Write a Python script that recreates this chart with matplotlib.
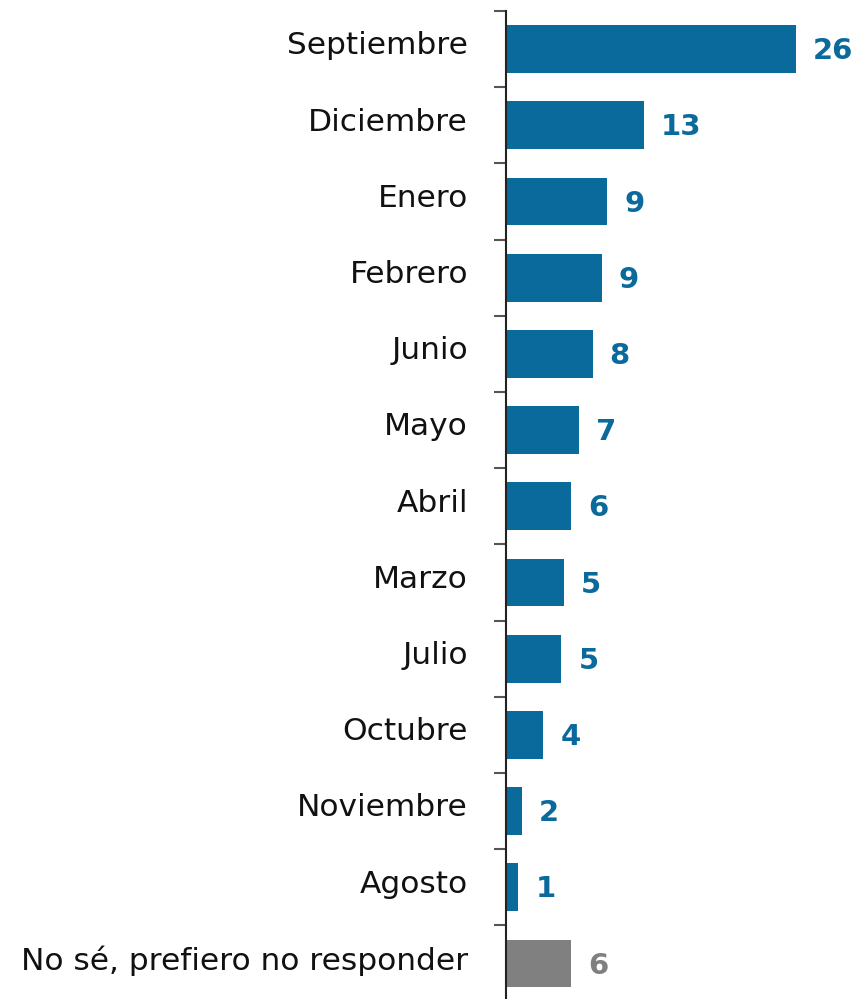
import matplotlib
matplotlib.use("Agg")
import matplotlib.pyplot as plt
import matplotlib.transforms as mtransforms
import numpy as np

categories = ["Septiembre", "Diciembre", "Enero", "Febrero", "Junio", "Mayo",
              "Abril", "Marzo", "Julio", "Octubre", "Noviembre", "Agosto",
              "No sé, prefiero no responder"]
values = [26.0, 12.4, 9.1, 8.6, 7.8, 6.6, 5.9, 5.2, 5.0, 3.4, 1.45, 1.15, 5.9]
value_labels = ["26", "13", "9", "9", "8", "7", "6", "5", "5", "4", "2", "1", "6"]

BLUE = "#0B6A9C"
GRAY = "#808080"
colors = [BLUE] * 12 + [GRAY]

W, H = 856, 999
dpi = 100
fig = plt.figure(figsize=(W / dpi, H / dpi), dpi=dpi)

ax_left = 505.5 / W
ax_top = 1 - 11 / H
ax_bottom = 1 - 1001.6 / H
ax = fig.add_axes([ax_left, ax_bottom, 1 - ax_left, ax_top - ax_bottom])

n = len(categories)
y = np.arange(n)
ax.barh(y, values, height=0.625, color=colors, zorder=2)
ax.set_ylim(n - 0.5, -0.5)
ax.set_xlim(0, (W - 505.5) / 11.17)

ax.set_yticks(y)
ax.set_yticklabels(categories, fontsize=22.5, family=["DejaVu Sans"], color="#111111")
ax.set_yticks(np.arange(-0.5, n, 1), minor=True)
ax.tick_params(axis="y", which="major", length=0, pad=27)
ax.tick_params(axis="y", which="minor", length=9, width=1.5, color="#555555")
ax.set_xticks([])
offset = mtransforms.ScaledTranslation(0, 4.5 / 72, fig.dpi_scale_trans)
for lbl in ax.get_yticklabels():
    lbl.set_transform(lbl.get_transform() + offset)

for s in ["top", "right", "bottom"]:
    ax.spines[s].set_visible(False)
ax.spines["left"].set_color("#222222")
ax.spines["left"].set_linewidth(1.5)

for yi, v, lab, c in zip(y, values, value_labels, colors):
    ax.annotate(lab, xy=(v, yi), xytext=(17 * 72 / dpi, -1.5), textcoords="offset points",
                ha="left", va="center", fontsize=21, fontweight="bold",
                color=c, family=["DejaVu Sans"])

fig.savefig("out.png", dpi=dpi)
